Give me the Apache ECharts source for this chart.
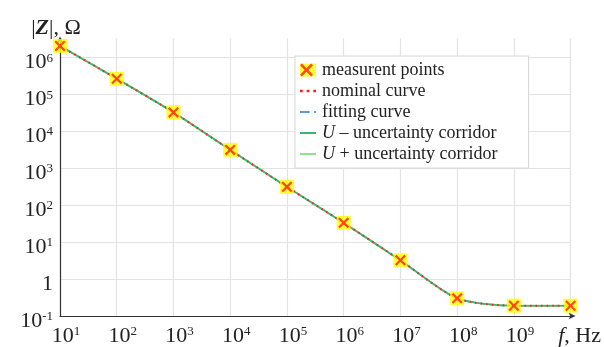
<!DOCTYPE html>
<html>
<head>
<meta charset="utf-8">
<style>
  html, body { margin: 0; padding: 0; background: #fff; }
  #chart { width: 604px; height: 347px; }
</style>
<script src="https://cdn.jsdelivr.net/npm/echarts@6/dist/echarts.min.js"></script>
</head>
<body>
<div id="chart"></div>
<script>
// Impedance magnitude |Z| versus frequency f
const frequencies = [1e1, 1e2, 1e3, 1e4, 1e5, 1e6, 1e7, 1e8, 1e9, 1e10];
const measured    = [2.0e6, 2.6e5, 3.2e4, 3.1e3, 310, 33, 3.2, 0.30, 0.19, 0.19];
const nominal     = [2.0e6, 2.6e5, 3.2e4, 3.1e3, 310, 33, 3.2, 0.30, 0.19, 0.19];
const fitting     = [2.0e6, 2.6e5, 3.2e4, 3.1e3, 310, 33, 3.2, 0.30, 0.19, 0.19];
const corridorLow = [2.0e6, 2.6e5, 3.2e4, 3.1e3, 310, 33, 3.2, 0.30, 0.19, 0.19];
const corridorUp  = [2.0e6, 2.6e5, 3.2e4, 3.1e3, 310, 33, 3.2, 0.30, 0.19, 0.19];
const legendNames = ['measurent points', 'nominal curve', 'fitting curve',
                     'U \u2013 uncertainty corridor', 'U + uncertainty corridor'];

const SERIF = '"Liberation Serif", "DejaVu Serif", serif';
const pairs = ys => frequencies.map((f, i) => [f, ys[i]]);
const CROSS = 'path://M0,1.4 L1.4,0 L5,3.6 L8.6,0 L10,1.4 L6.4,5 L10,8.6 L8.6,10 L5,6.4 L1.4,10 L0,8.6 L3.6,5 Z';
// legend glyphs for the curves: solid bar, dots, dash + dot
const ICON_SOLID = 'path://M0,0 H16 V2 H0 Z';
const ICON_DOTS = 'path://M1,0 h2.4 v2 h-2.4 Z M6.8,0 h2.4 v2 h-2.4 Z M12.6,0 h2.4 v2 h-2.4 Z';
const ICON_DASH = 'path://M0,0 h9 v2 h-9 Z M13,0 h2 v2 h-2 Z';

function powerLabel(v) {
  const e = Math.log10(v);
  const r = Math.round(e);
  if (Math.abs(e - r) > 1e-6) return '';
  if (r === 0) return '{b|1}';
  return '{b|10}{s|' + (r < 0 ? '-' + (-r) : r) + '}';
}

const powerRich = {
  b: { fontFamily: SERIF, fontSize: 22, lineHeight: 22, color: '#222' },
  s: { fontFamily: SERIF, fontSize: 13, lineHeight: 13, color: '#222', verticalAlign: 'top' }
};

function legendText(name) {
  if (name.indexOf('U ') === 0) return '{i|U}{t|' + name.slice(1) + '}';
  return '{t|' + name + '}';
}
const legendRich = {
  t: { fontFamily: SERIF, fontSize: 18, color: '#222' },
  i: { fontFamily: SERIF, fontSize: 18, fontStyle: 'italic', color: '#222' }
};

const chart = echarts.init(document.getElementById('chart'), null, { renderer: 'canvas' });

const lineSeries = (name, data, color, type, width, z) => ({
  name, type: 'line', data: pairs(data), smooth: 0.25,
  symbol: 'none', clip: false, z,
  lineStyle: { color, width, type }, itemStyle: { color }
});

const legendBox = {
  orient: 'vertical', left: 295, top: 56,
  padding: [5, 31, 5, 5], itemGap: 3, itemWidth: 16, itemHeight: 13,
  symbolKeepAspect: true,
  selectedMode: false, formatter: legendText
};

chart.setOption({
  animation: false,
  backgroundColor: '#fff',
  grid: { left: 60, right: 16, top: 38.6, bottom: 29.7 },
  xAxis: {
    type: 'log', min: 1e1, max: 1e10, interval: 1,
    axisLine: { lineStyle: { color: '#333', width: 1.2 }, symbol: ['none', 'arrow'], symbolSize: [5, 7], symbolOffset: [0, 5] },
    axisTick: { show: false },
    splitLine: { show: true, lineStyle: { color: '#e3e3e3', width: 1.2 } },
    axisLabel: {
      margin: 9, showMaxLabel: true, showMinLabel: true,
      formatter: v => {
        if (Math.abs(Math.log10(v) - 10) < 1e-6) return '{i|f}{n|, Hz}';
        return powerLabel(v);
      },
      padding: [0, 0, 0, 12],
      rich: Object.assign({}, powerRich, {
        i: { fontFamily: SERIF, fontSize: 22, lineHeight: 22, fontStyle: 'italic', color: '#222', padding: [0, 0, 0, 6] },
        n: { fontFamily: SERIF, fontSize: 22, lineHeight: 22, color: '#222' }
      })
    }
  },
  yAxis: {
    type: 'log', min: 1e-1, max: Math.pow(10, 6.5), interval: 1,
    name: '{n||}{z|Z}{n||, \u03A9}',
    nameLocation: 'end', nameGap: -1,
    nameTextStyle: {
      padding: [0, 8, 0, 0],
      rich: {
        n: { fontFamily: SERIF, fontSize: 22, color: '#222' },
        z: { fontFamily: SERIF, fontSize: 22, fontStyle: 'italic', fontWeight: 'bold', color: '#222' }
      }
    },
    axisLine: { lineStyle: { color: '#333', width: 1.2 }, symbol: ['none', 'arrow'], symbolSize: [5, 7], symbolOffset: [0, 2] },
    axisTick: { show: false },
    splitLine: {
      show: true,
      lineStyle: { color: ['#e3e3e3', '#e3e3e3', '#e3e3e3', '#e3e3e3', '#e3e3e3', '#e3e3e3', '#e3e3e3', '#e3e3e3', 'rgba(0,0,0,0)'], width: 1.2 }
    },
    axisLabel: { margin: 7, formatter: powerLabel, rich: powerRich, padding: [11, 0, 0, 0] }
  },
  legend: [Object.assign({}, legendBox, {
    backgroundColor: '#fff', borderColor: '#d6d6d6', borderWidth: 1,
    textStyle: { rich: legendRich, padding: [0, 0, 0, 1] },
    data: [
      { name: legendNames[0], icon: 'rect' },
      { name: legendNames[1], icon: ICON_DOTS },
      { name: legendNames[2], icon: ICON_DASH },
      { name: legendNames[3], icon: ICON_SOLID },
      { name: legendNames[4], icon: ICON_SOLID }
    ]
  }), Object.assign({}, legendBox, {
    z: 10,
    textStyle: { rich: { t: { fontFamily: SERIF, fontSize: 18, color: 'rgba(0,0,0,0)' } }, padding: [0, 0, 0, 1] },
    data: [{ name: legendNames[0], icon: CROSS, itemStyle: { color: '#ff1a1a' } }]
  })],
  series: [
    lineSeries(legendNames[2], fitting, '#5b9bd5', [6, 3], 1.5, 1),
    lineSeries(legendNames[4], corridorUp, '#8fe08f', 'solid', 2, 2),
    lineSeries(legendNames[3], corridorLow, '#3cb371', 'solid', 1.6, 3),
    lineSeries(legendNames[1], nominal, '#ff2020', [1.5, 4], 2, 4),
    {
      name: legendNames[0], type: 'scatter', data: pairs(measured), clip: false, z: 5,
      symbol: 'rect', symbolSize: 14, itemStyle: { color: '#ffff00' }
    },
    {
      name: legendNames[0], type: 'scatter', data: pairs(measured), clip: false, z: 6,
      symbol: CROSS, symbolSize: 11, itemStyle: { color: '#ff1a1a' }
    }
  ]
});
</script>
</body>
</html>
